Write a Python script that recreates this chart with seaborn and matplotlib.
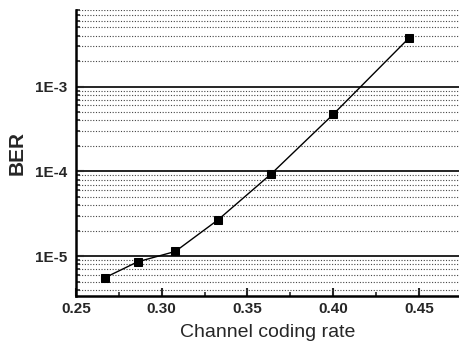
import matplotlib
matplotlib.use("Agg")
import matplotlib.pyplot as plt
import matplotlib.ticker as mticker
import seaborn as sns
import pandas as pd
import numpy as np

# Channel coding rate vs bit error rate
coding_rate = [0.267, 0.286, 0.308, 0.333, 0.364, 0.400, 0.444]
ber = [5.6e-6, 8.6e-6, 1.14e-5, 2.7e-5, 9.4e-5, 4.7e-4, 3.7e-3]

x_ticks = [0.25, 0.30, 0.35, 0.40, 0.45]
y_ticks = [1e-5, 1e-4, 1e-3]
y_tick_labels = ["1E-5", "1E-4", "1E-3"]

df = pd.DataFrame({"rate": coding_rate, "ber": ber})

sns.set_style("ticks")
plt.rcParams["font.family"] = ["Liberation Sans", "DejaVu Sans"]

fig = plt.figure(figsize=(4.6, 3.47), dpi=100)
ax = fig.add_axes([0.165, 0.147, 0.835, 0.824])

ax.set_yscale("log")
ax.set_xlim(0.25, 0.474)
ax.set_ylim(3.4e-6, 8.0e-3)

# horizontal grid only: solid at decades, dotted at minor steps
ax.yaxis.grid(True, which="major", color="black", linewidth=1.2, linestyle="-")
ax.yaxis.grid(True, which="minor", color="#444444", linewidth=0.8, linestyle=(0, (1, 1.5)))
ax.xaxis.grid(False)
ax.set_axisbelow(True)

sns.lineplot(data=df, x="rate", y="ber", marker="s", color="black",
             markersize=6, linewidth=1.0, markeredgecolor="black", ax=ax)

ax.set_xticks(x_ticks)
ax.xaxis.set_minor_locator(mticker.MultipleLocator(0.025))
ax.xaxis.set_major_formatter(mticker.FormatStrFormatter("%.2f"))
ax.set_yticks(y_ticks)
ax.set_yticklabels(y_tick_labels)
ax.yaxis.set_minor_locator(mticker.LogLocator(base=10, subs=np.arange(2, 10)))
ax.yaxis.set_minor_formatter(mticker.NullFormatter())

ax.tick_params(axis="both", which="major", direction="in", length=6, width=1.5,
               labelsize=11, pad=4)
ax.tick_params(axis="y", which="major", pad=6)
ax.tick_params(axis="both", which="minor", direction="in", length=3, width=1.2)
for lab in ax.get_xticklabels() + ax.get_yticklabels():
    lab.set_fontweight("bold")

for side in ["top", "right"]:
    ax.spines[side].set_visible(False)
for side in ["left", "bottom"]:
    ax.spines[side].set_linewidth(1.8)
    ax.spines[side].set_color("black")

ax.set_xlabel("Channel coding rate", fontsize=14, labelpad=6)
ax.set_ylabel("BER", fontsize=15, fontweight="bold", labelpad=6)

fig.savefig("out.png", dpi=100)
